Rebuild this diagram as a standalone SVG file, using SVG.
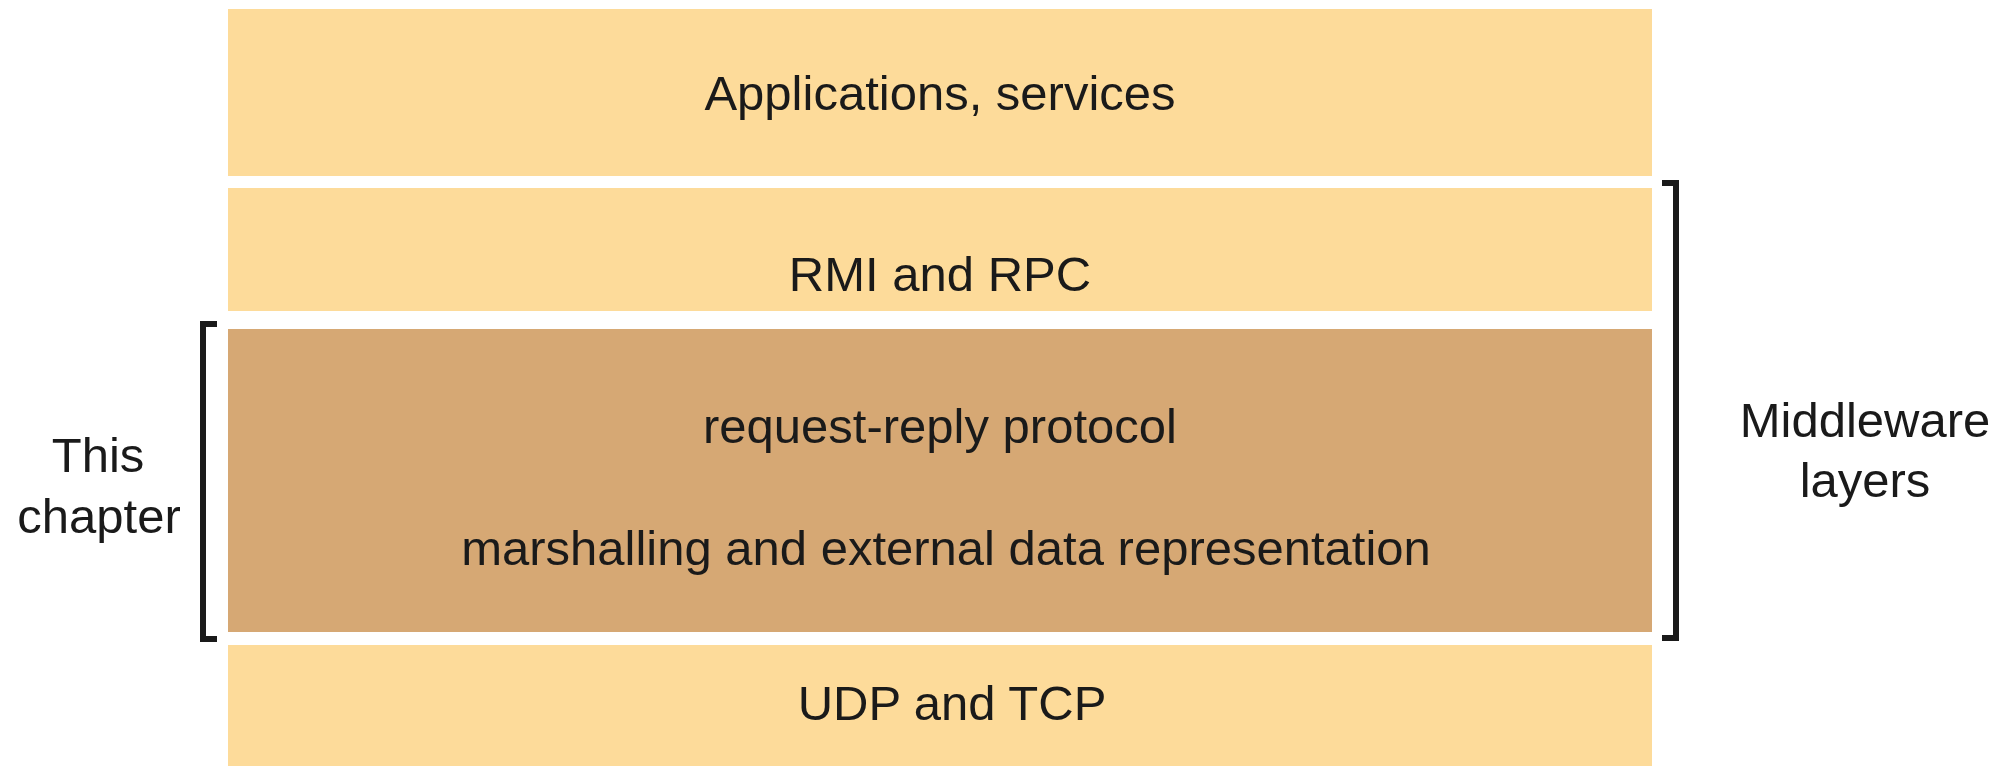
<svg xmlns="http://www.w3.org/2000/svg" width="2006" height="766" viewBox="0 0 2006 766">
<style>
.light{fill:#FDDB9A}
.dark{fill:#D6A874}
.t{font-family:"Liberation Sans",Arial,sans-serif;font-size:49px;fill:#1a1a1a;text-anchor:middle}
.br{fill:none;stroke:#1a1a1a;stroke-width:6;stroke-linejoin:miter}
</style>
<rect width="2006" height="766" fill="#ffffff"/>
<g id="applications">
<rect class="light" x="228" y="9" width="1424" height="167"/>
<text class="t" x="940" y="110">Applications, services</text>
</g>
<g id="rmi-rpc">
<rect class="light" x="228" y="188" width="1424" height="123"/>
<text class="t" x="940" y="291">RMI and RPC</text>
</g>
<g id="request-reply">
<rect class="dark" x="228" y="329" width="1424" height="303"/>
<text class="t" x="940" y="443">request-reply protocol</text>
<text class="t" x="946" y="565">marshalling and external data representation</text>
</g>
<g id="udp-tcp">
<rect class="light" x="228" y="645" width="1424" height="125"/>
<text class="t" x="952" y="720">UDP and TCP</text>
</g>
<g id="connectors">
<path class="br" d="M217 324 H203 V639 H217"/>
<path class="br" d="M1662 183 H1676 V638 H1662"/>
</g>
<g id="this-chapter">
<text class="t" x="98" y="472">This</text>
<text class="t" x="99" y="533">chapter</text>
</g>
<g id="middleware-layers">
<text class="t" x="1865" y="437">Middleware</text>
<text class="t" x="1865" y="497">layers</text>
</g>
</svg>
